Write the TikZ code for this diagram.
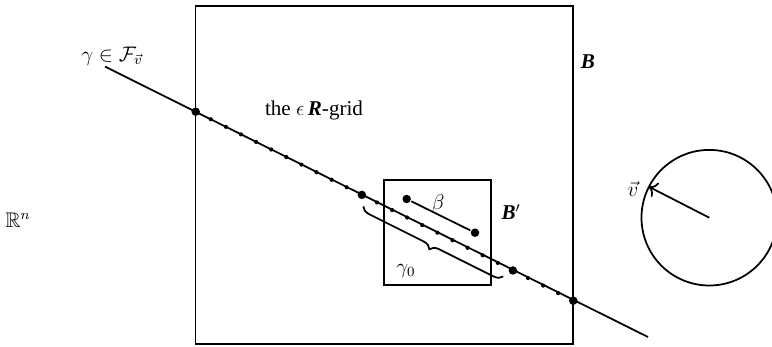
\documentclass[tikz,border=0pt]{standalone}
\usepackage{amsmath}
\usepackage{amssymb}
\usepackage{fontspec}
\setmainfont{Liberation Serif}
\usetikzlibrary{arrows.meta,calc,decorations.pathreplacing}

\newcommand{\bit}[1]{\textbf{\textit{#1}}}

\begin{document}
\begin{tikzpicture}[
  x=0.02cm, y=-0.02cm,
  font=\large,
  line width=1pt,
  bigdot/.style  ={circle, fill=black, inner sep=0pt, minimum size=8.5*0.02cm},
  smalldot/.style={circle, fill=black, inner sep=0pt, minimum size=4.2*0.02cm},
  lbl/.style     ={inner sep=1pt},
  bracket/.style ={decorate, decoration={brace, mirror, amplitude=5pt}},
  vecarr/.style  ={-{To[length=1.5mm, width=3.2mm]}},
]
\useasboundingbox (0,0) rectangle (772,346);

% boxes and the sphere
\draw (195.5,6) rectangle (573.3,344);
\draw (384.3,180) rectangle (490.7,285);
\draw (709.3,217.7) circle (67.8);

% the line gamma with its grid points
\coordinate (gs) at (105,66.6);
\coordinate (ge) at (648,337);
\draw (gs) -- (ge);
\foreach \k in {0,...,25}
  \node[smalldot] (d\k) at ({195.7+15.104*\k},{111.7+7.56*\k}) {};
\foreach \k in {0,11,21,25}
  \node[bigdot] at (d\k) {};

% the segment beta
\node[bigdot] (b1) at (406.7,199) {};
\node[bigdot] (b2) at (475,232.7) {};
\draw (b1) -- (b2);

% gamma_0
\coordinate (bl) at ($(d11)+(1.5,11.5)$);
\coordinate (br) at ($(d21)+(-9.5,6)$);
\draw[bracket] (bl) -- (br);

% the direction v
\coordinate (c) at (709.3,217.7);
\coordinate (ct) at (649,186.8);
\draw[vecarr] (c) -- (ct);

\node[lbl] (lgam)  at (112,56)  {$\gamma\in\mathcal{F}_{\vec v}$};
\node[lbl] (lB)    at (588,62)  {\bit{B}};
\node[lbl] (lgrid) at (314,110) {the $\epsilon$\,\bit{R}-grid};
\node[lbl] (lBp)   at (511,212) {\bit{B}$'$};
\node[lbl] (lbeta) at (438,204) {$\beta$};
\node[lbl] (lg0)   at (406,271) {$\gamma_0$};
\node[lbl] (lv)    at (633,189) {$\vec v$};
\node[lbl] (lR)    at (18,220)  {$\mathbb{R}^n$};

\end{tikzpicture}
\end{document}
